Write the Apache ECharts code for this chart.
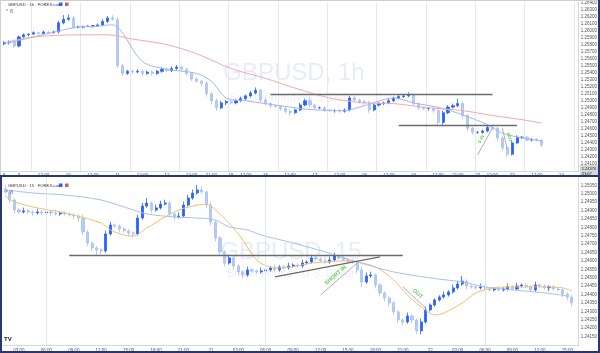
<!DOCTYPE html>
<html>
<head>
<meta charset="utf-8">
<script src="https://cdn.jsdelivr.net/npm/echarts@6/dist/echarts.min.js"></script>
<style>
html, body { margin: 0; padding: 0; background: #fff; }
#main { width: 600px; height: 353px; }
</style>
</head>
<body>
<div id="main"></div>
<script>
// ---- 1h panel (top) ----
var topFirstOpen = 1.2581;
var topClose = [
  1.2583,1.2584,1.2578,1.2591,1.2594,1.2595,1.2597,1.2596,1.2598,1.2597,
  1.2598,1.2611,1.2616,1.2618,1.2605,1.2605,1.2606,1.2606,1.2607,1.2608,
  1.2613,1.2618,1.2616,1.2550,1.2539,1.2542,1.2541,1.2542,1.2539,1.2541,
  1.2539,1.2542,1.2545,1.2543,1.2546,1.2548,1.2545,1.2539,1.2531,1.2528,
  1.2525,1.2510,1.2500,1.2490,1.2497,1.2499,1.2497,1.2500,1.2503,1.2507,
  1.2511,1.2515,1.2501,1.2496,1.2493,1.2492,1.2489,1.2485,1.2483,1.2487,
  1.2494,1.2500,1.2494,1.2490,1.2490,1.2487,1.2486,1.2486,1.2485,1.2487,
  1.2504,1.2501,1.2499,1.2497,1.2487,1.2494,1.2496,1.2497,1.2500,1.2504,
  1.2506,1.2507,1.2508,1.2496,1.2490,1.2489,1.2489,1.2486,1.2469,1.2483,
  1.2491,1.2493,1.2496,1.2479,1.2461,1.2455,1.2455,1.2457,1.2462,1.2461,
  1.2447,1.2433,1.2424,1.2440,1.2448,1.2448,1.2444,1.2445,1.2444,1.2437
];
// wick lengths in pips
var topWickUp = [
  2,2,3,2,2,1,2,1,2,1, 2,3,6,5,3,2,1,2,1,2, 3,3,4,3,3,2,2,3,2,2,
  2,2,3,2,3,3,2,2,2,3, 2,3,2,3,3,2,2,2,3,2, 3,4,2,3,2,2,2,2,3,2,
  3,3,6,2,2,2,1,2,2,2, 3,3,2,2,3,2,2,2,3,2, 3,2,4,2,2,2,2,2,3,3,
  3,3,7,3,2,2,2,2,3,2, 2,2,2,3,3,2,2,2,2,1
];
var topWickDn = [
  2,3,3,2,1,2,1,2,1,2, 1,2,2,2,3,2,2,1,2,1, 2,2,2,3,4,2,3,2,3,2,
  3,2,2,2,2,2,3,3,3,2, 4,4,5,4,2,3,2,2,2,2, 2,2,3,3,3,2,3,3,4,2,
  2,2,3,3,2,3,2,3,2,2, 2,2,3,3,4,2,2,2,2,2, 2,2,2,3,3,2,3,3,4,3,
  2,2,2,4,4,3,2,2,2,3, 4,4,5,2,2,2,2,2,2,3
];
var topCount = 117;
var topTickIdx = [0,3,8,13,18,23,28,33,38,42,46,49,53,58,63,68,73,78,83,88,92,96,99,103,108,113];
var topTickText = ['8','9','12:00','10','12:00','11','12:00','12','12:00','21:00','15','12:00','16','12:00','17','12:00','18','12:00','19','12:00','21:00','22','12:00','23','12:00','24'];
var topFastIdx = [0,6,12,15,19,21,22,28,33,39,42,45,49,56,63,69,73,79,83,89,96,99,101,105,109];
var topFastVal = [1.2581,1.2591,1.2601,1.2605,1.2606,1.2608,1.2608,1.2556,1.2545,1.2539,1.2528,1.2504,1.2500,1.2493,1.2487,1.2486,1.2493,1.2504,1.2497,1.2489,1.2472,1.2462,1.2454,1.2447,1.2443];
var topSlowIdx = [0,6,16,21,26,33,39,46,53,59,66,73,79,86,93,99,106,109];
var topSlowVal = [1.2583,1.2591,1.2594,1.2594,1.2588,1.2580,1.2567,1.2546,1.2532,1.2518,1.2504,1.2497,1.2496,1.2490,1.2486,1.2479,1.2472,1.2468];

// ---- 15m panel (bottom) ----
var botFirstOpen = 1.25030;
var botClose = [
  1.25011,1.24963,1.24904,1.24892,1.24898,1.24892,1.24886,1.24892,1.24886,1.24892,
  1.24886,1.24880,1.24886,1.24880,1.24874,1.24868,1.24856,1.24773,1.24707,1.24678,
  1.24666,1.24660,1.24761,1.24814,1.24808,1.24791,1.24779,1.24767,1.24761,1.24856,
  1.24927,1.24945,1.24904,1.24916,1.24939,1.24945,1.24880,1.24862,1.24868,1.24933,
  1.24975,1.25005,1.25023,1.25011,1.24933,1.24832,1.24737,1.24654,1.24588,1.24618,
  1.24570,1.24535,1.24517,1.24547,1.24541,1.24535,1.24541,1.24547,1.24559,1.24547,
  1.24565,1.24559,1.24570,1.24576,1.24570,1.24588,1.24594,1.24618,1.24612,1.24600,
  1.24594,1.24606,1.24630,1.24618,1.24606,1.24600,1.24594,1.24547,1.24475,1.24511,
  1.24517,1.24457,1.24410,1.24380,1.24350,1.24297,1.24249,1.24237,1.24273,1.24249,
  1.24184,1.24237,1.24309,1.24338,1.24368,1.24386,1.24398,1.24416,1.24440,1.24463,
  1.24481,1.24451,1.24446,1.24440,1.24446,1.24434,1.24428,1.24434,1.24428,1.24434,
  1.24446,1.24434,1.24451,1.24457,1.24446,1.24428,1.24457,1.24451,1.24440,1.24446,
  1.24434,1.24428,1.24404,1.24386,1.24350
];
var botWickUp = [
  2,1,1,1,2,1,1,2,1,1, 1,2,1,1,1,1,1,2,1,1, 1,1,2,2,1,1,1,1,1,2,
  2,3,1,2,2,2,1,1,2,2, 2,2,3,2,1,2,1,1,1,2, 1,1,1,2,1,1,2,1,1,2,
  1,1,2,1,1,2,1,2,1,1, 1,2,2,1,1,1,1,1,2,2, 2,1,1,1,1,1,1,1,2,1,
  1,2,2,1,1,1,2,1,2,2, 3,1,1,1,2,1,1,1,1,1, 2,1,2,1,1,1,2,1,1,1,
  1,1,1,1,1
];
var botWickDn = [
  1,2,2,1,1,1,2,1,1,1, 2,1,1,1,1,2,2,2,2,2, 3,2,1,1,1,2,1,2,2,1,
  1,1,2,1,1,1,2,2,1,1, 1,1,1,1,2,2,2,2,2,1, 2,2,2,1,1,1,1,1,1,1,
  1,1,1,1,1,1,1,1,1,1, 1,1,1,1,1,1,1,2,3,1, 1,2,2,2,2,2,2,2,1,2,
  2,2,1,1,1,1,1,1,1,1, 1,2,1,1,1,1,1,1,1,1, 1,1,1,1,1,1,1,1,1,2,
  1,1,2,2,2
];
var botCount = 126;
var botTickIdx = [3,9,15,21,27,33,39,45,51,57,63,69,75,81,87,93,99,105,111,117,123];
var botTickText = ['03:00','06:00','09:00','12:00','15:00','18:00','21:00','21','03:00','06:00','09:00','12:00','15:00','18:00','21:00','22','03:00','06:00','09:00','12:00','15:00'];
var botGridIdx = [9, 57, 105];
var botFastIdx = [0,1,6,13,21,23,26,28,31,35,38,42,44,46,49,52,55,59,63,67,70,74,77,81,85,88,91,94,96,100,103,107,111,114,118,122,124];
var botFastVal = [1.24993,1.24963,1.24922,1.24886,1.24826,1.24785,1.24755,1.24749,1.24797,1.24862,1.24904,1.24933,1.24939,1.24904,1.24826,1.24725,1.24606,1.24559,1.24565,1.24588,1.24594,1.24600,1.24594,1.24565,1.24487,1.24398,1.24327,1.24279,1.24291,1.24350,1.24410,1.24440,1.24446,1.24446,1.24446,1.24440,1.24422];
var botSlowIdx = [0,6,13,21,28,31,37,42,46,49,53,56,63,70,77,85,93,100,105,111,118,123];
var botSlowVal = [1.25023,1.25005,1.24993,1.24963,1.24904,1.24880,1.24862,1.24856,1.24844,1.24803,1.24785,1.24755,1.24707,1.24654,1.24594,1.24535,1.24499,1.24475,1.24446,1.24428,1.24410,1.24392];

// drawn lines: [startIdx, startPrice, endIdx, endPrice]
var topLevels = [[54, 1.2510, 99, 1.2510], [80, 1.2465, 104, 1.2465]];
var topEntry = [96, 1.2423, 99, 1.2461];
var topExit = [101, 1.2461, 102, 1.2432];
var botLevels = [[14, 1.24636, 87, 1.24636], [59, 1.24505, 82, 1.24624]];
var botEntry = [69, 1.24398, 77, 1.24588];
var botExit = [87, 1.24446, 92, 1.24321];

function buildCandles(firstOpen, closes, up, dn) {
  var out = [];
  for (var i = 0; i < closes.length; i++) {
    var o = i === 0 ? firstOpen : closes[i - 1];
    var c = closes[i];
    out.push([o, c, +(Math.min(o, c) - dn[i] * 0.0001).toFixed(5), +(Math.max(o, c) + up[i] * 0.0001).toFixed(5)]);
  }
  return out;
}
function buildLine(n, idx, val) {
  var a = [];
  for (var i = 0; i < n; i++) a.push(null);
  idx.forEach(function (k, i) { a[k] = val[i]; });
  return a;
}
function cats(n) {
  var a = [];
  for (var i = 0; i < n; i++) a.push(String(i));
  return a;
}
function tickMap(idx, text) {
  var m = {};
  idx.forEach(function (k, i) { m[k] = text[i]; });
  return m;
}
function seg(s, extra) {
  var a = { coord: [s[0], s[1]] };
  for (var k in extra) a[k] = extra[k];
  return [a, { coord: [s[2], s[3]] }];
}

var topTicks = tickMap(topTickIdx, topTickText);
var botTicks = tickMap(botTickIdx, botTickText);
var lastTop = topClose[topClose.length - 1];
var lastBot = botClose[botClose.length - 1];

var font = 'Liberation Sans';
var levelStyle = { color: '#6b6b6b', width: 1.3, type: 'solid' };
var tradeStyle = { color: '#9a9a9a', width: 0.8, type: 'solid' };
function tradeLabel(txt, size) {
  return { show: true, formatter: txt, position: 'insideMiddleTop', color: '#66cc55', fontSize: size, fontWeight: 'bold', fontFamily: font, distance: 2 };
}
function priceLabel(v, t) {
  return {
    show: true, position: 'end', distance: 1, formatter: v.toFixed(5) + '\n' + t,
    fontSize: 4, lineHeight: 5, color: '#222', backgroundColor: '#d6d6d6', padding: [1, 2], fontFamily: font
  };
}

var xCommon = {
  type: 'category',
  axisTick: { show: false },
  axisLine: { lineStyle: { color: '#d3d8e2' } }
};
var yCommon = {
  type: 'value', position: 'right',
  axisLine: { show: true, lineStyle: { color: '#d3d8e2' } },
  axisTick: { show: false },
  splitLine: { show: false },
  axisLabel: { fontSize: 4.5, color: '#555', margin: 2, fontFamily: font, showMinLabel: false,
    formatter: function (v) { return v.toFixed(5); } }
};

var option = {
  animation: false,
  backgroundColor: '#fff',
  grid: [
    { left: 1, right: 14, top: 0, bottom: 182 },
    { left: 3, right: 15, top: 177, bottom: 8 }
  ],
  xAxis: [
    Object.assign({}, xCommon, {
      gridIndex: 0, data: cats(topCount),
      axisLabel: { fontSize: 4.5, color: '#555', margin: 2, fontFamily: font,
        interval: function (i) { return topTicks[i] !== undefined; },
        formatter: function (v, i) { return topTicks[i] || ''; } },
      splitLine: { show: true, interval: function (i) { return i % 10 === 6; }, lineStyle: { color: '#e2e8f5', width: 1 } }
    }),
    Object.assign({}, xCommon, {
      gridIndex: 1, data: cats(botCount),
      axisLabel: { fontSize: 4.5, color: '#555', margin: 3, fontFamily: font,
        interval: function (i) { return botTicks[i] !== undefined; },
        formatter: function (v, i) { return botTicks[i] || ''; } },
      splitLine: { show: false }
    })
  ],
  yAxis: [
    Object.assign({}, yCommon, { gridIndex: 0, min: 1.2400, max: 1.2640, interval: 0.001 }),
    Object.assign({}, yCommon, { gridIndex: 1, min: 1.2410, max: 1.2510, interval: 0.0005,
      axisLabel: Object.assign({}, yCommon.axisLabel, { showMaxLabel: false }) })
  ],
  graphic: [
    { type: 'text', z: 0, x: 294, y: 61, style: { text: 'GBPUSD, 1h', font: '24px ' + font, fill: '#e7ecf6', textAlign: 'center' } },
    { type: 'text', z: 0, x: 294, y: 92, style: { text: 'British Pound / U.S. Dollar', font: '11px ' + font, fill: '#edf0f7', textAlign: 'center' } },
    { type: 'text', z: 0, x: 291, y: 240, style: { text: 'GBPUSD, 15', font: '24px ' + font, fill: '#e7ecf6', textAlign: 'center' } },
    { type: 'text', z: 0, x: 291, y: 268, style: { text: 'British Pound / U.S. Dollar', font: '11px ' + font, fill: '#edf0f7', textAlign: 'center' } },
    { type: 'text', z: 10, x: 8, y: 3, style: { text: 'GBPUSD · 1h · FOREX.com', font: '4.2px ' + font, fill: '#333' } },
    { type: 'rect', z: 10, shape: { x: 59, y: 2.5, width: 3.5, height: 3.5 }, style: { fill: '#2962ff' } },
    { type: 'rect', z: 10, shape: { x: 65, y: 2.5, width: 3.5, height: 3.5 }, style: { fill: '#c0675a' } },
    { type: 'text', z: 10, x: 5, y: 9, style: { text: '⌃ 8', font: '4.5px ' + font, fill: '#555' } },
    { type: 'text', z: 10, x: 8, y: 184, style: { text: 'GBPUSD · 15 · FOREX.com', font: '4.2px ' + font, fill: '#333' } },
    { type: 'rect', z: 10, shape: { x: 59, y: 183.5, width: 3.5, height: 3.5 }, style: { fill: '#2962ff' } },
    { type: 'rect', z: 10, shape: { x: 65, y: 183.5, width: 3.5, height: 3.5 }, style: { fill: '#c0675a' } },
    { type: 'text', z: 10, x: 5, y: 190, style: { text: '⌃ 8', font: '4.5px ' + font, fill: '#555' } },
    { type: 'text', z: 10, x: 4, y: 336, style: { text: 'TV', font: 'bold 6px ' + font, fill: '#131722' } },
    { type: 'line', z: 10, shape: { x1: 0, y1: 0.5, x2: 600, y2: 0.5 }, style: { stroke: '#d0d0d0', lineWidth: 1 } },
    { type: 'line', z: 10, shape: { x1: 0.5, y1: 0, x2: 0.5, y2: 176 }, style: { stroke: '#d0d0d0', lineWidth: 1 } },
    { type: 'rect', z: 10, shape: { x: 1, y: 176, width: 598, height: 176 }, style: { fill: 'none', stroke: '#2a3672', lineWidth: 2 } },
    { type: 'line', z: 10, shape: { x1: 599, y1: 0, x2: 599, y2: 176 }, style: { stroke: '#2a3672', lineWidth: 2 } }
  ],
  series: [
    {
      type: 'candlestick', xAxisIndex: 0, yAxisIndex: 0, barWidth: 2.6, clip: false,
      data: buildCandles(topFirstOpen, topClose, topWickUp, topWickDn),
      itemStyle: { color: '#2962ff', color0: '#b7cbf6', borderColor: '#2962ff', borderColor0: '#a6bff3', borderWidth: 0.8 },
      markLine: {
        silent: true, symbol: ['none', 'none'], label: { show: false },
        data: [
          seg(topLevels[0], { lineStyle: levelStyle }),
          seg(topLevels[1], { lineStyle: levelStyle }),
          seg(topEntry, { lineStyle: tradeStyle, label: tradeLabel('S IN', 4.5) }),
          seg(topExit, { lineStyle: tradeStyle, label: tradeLabel('OUT', 4.5) }),
          { yAxis: lastTop, lineStyle: { color: 'rgba(0,0,0,0)', width: 1 }, label: priceLabel(lastTop, '21:07') }
        ]
      }
    },
    {
      type: 'line', xAxisIndex: 0, yAxisIndex: 0, connectNulls: true, showSymbol: false, smooth: 0.3,
      data: buildLine(topCount, topFastIdx, topFastVal),
      lineStyle: { color: '#9fb9ea', width: 1 }
    },
    {
      type: 'line', xAxisIndex: 0, yAxisIndex: 0, connectNulls: true, showSymbol: false, smooth: 0.3,
      data: buildLine(topCount, topSlowIdx, topSlowVal),
      lineStyle: { color: '#f2aaa8', width: 1 }
    },
    {
      type: 'candlestick', xAxisIndex: 1, yAxisIndex: 1, barWidth: 2.6, clip: false,
      data: buildCandles(botFirstOpen, botClose, botWickUp, botWickDn),
      itemStyle: { color: '#2962ff', color0: '#b7cbf6', borderColor: '#2962ff', borderColor0: '#a6bff3', borderWidth: 0.8 },
      markLine: {
        silent: true, symbol: ['none', 'none'], label: { show: false },
        data: botGridIdx.map(function (k) {
          return { xAxis: k, lineStyle: { color: '#dfe6f6', width: 1, type: 'solid' } };
        }).concat([
          seg(botLevels[0], { lineStyle: levelStyle }),
          seg(botLevels[1], { lineStyle: levelStyle }),
          seg(botEntry, { lineStyle: tradeStyle, label: tradeLabel('SHORT IN', 5.5) }),
          seg(botExit, { lineStyle: tradeStyle, label: tradeLabel('OUT', 5.5) }),
          { yAxis: lastBot, lineStyle: { color: 'rgba(0,0,0,0)', width: 1 }, label: priceLabel(lastBot, '07:39') }
        ])
      }
    },
    {
      type: 'line', xAxisIndex: 1, yAxisIndex: 1, connectNulls: true, showSymbol: false, smooth: 0.3,
      data: buildLine(botCount, botFastIdx, botFastVal),
      lineStyle: { color: '#f4c06a', width: 1 }
    },
    {
      type: 'line', xAxisIndex: 1, yAxisIndex: 1, connectNulls: true, showSymbol: false, smooth: 0.3,
      data: buildLine(botCount, botSlowIdx, botSlowVal),
      lineStyle: { color: '#a9c0ec', width: 1 }
    }
  ]
};

var chart = echarts.init(document.getElementById('main'));
chart.setOption(option);
</script>
</body>
</html>
